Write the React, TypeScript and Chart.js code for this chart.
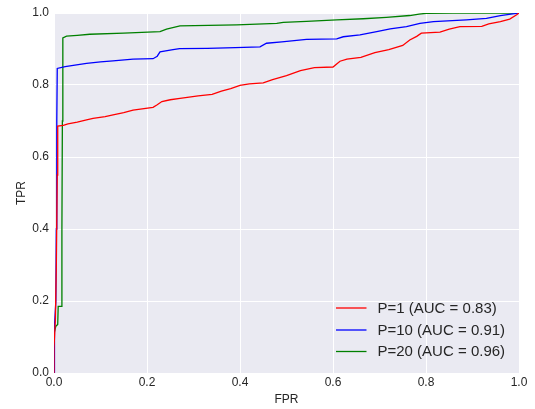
import React, { useEffect, useRef } from "react";
import { Chart, registerables } from "chart.js";

Chart.register(...registerables);

const xTicks = [0, 0.2, 0.4, 0.6, 0.8, 1.0];
const yTicks = [0, 0.2, 0.4, 0.6, 0.8, 1.0];

const seriesLabels = ["P=1 (AUC = 0.83)", "P=10 (AUC = 0.91)", "P=20 (AUC = 0.96)"];
const seriesColors = ["#ff0000", "#0000ff", "#008000"];

const fprP1 = [0, 0, 0.003, 0.005, 0.007, 0.008, 0.02, 0.03, 0.05, 0.07, 0.084, 0.11, 0.127, 0.15, 0.17, 0.213, 0.222, 0.232, 0.25, 0.271, 0.31, 0.34, 0.36, 0.38, 0.4, 0.42, 0.45, 0.47, 0.5, 0.53, 0.56, 0.6, 0.615, 0.63, 0.66, 0.69, 0.72, 0.75, 0.765, 0.78, 0.79, 0.83, 0.85, 0.873, 0.92, 0.935, 0.96, 0.98, 0.995, 1];
const tprP1 = [0, 0.07, 0.15, 0.3, 0.55, 0.686, 0.688, 0.692, 0.697, 0.703, 0.707, 0.712, 0.717, 0.723, 0.73, 0.738, 0.745, 0.754, 0.759, 0.763, 0.77, 0.774, 0.783, 0.79, 0.799, 0.803, 0.806, 0.815, 0.826, 0.84, 0.848, 0.85, 0.866, 0.872, 0.877, 0.89, 0.898, 0.91, 0.925, 0.935, 0.944, 0.947, 0.955, 0.962, 0.963, 0.97, 0.976, 0.983, 0.995, 1];

const fprP10 = [0, 0, 0.002, 0.004, 0.005, 0.006, 0.007, 0.024, 0.045, 0.07, 0.1, 0.127, 0.17, 0.213, 0.222, 0.228, 0.256, 0.27, 0.33, 0.39, 0.443, 0.457, 0.49, 0.543, 0.608, 0.622, 0.658, 0.694, 0.723, 0.758, 0.787, 0.816, 0.887, 0.93, 0.96, 0.99, 1];
const tprP10 = [0, 0.1, 0.13, 0.2, 0.4, 0.7, 0.846, 0.851, 0.855, 0.86, 0.864, 0.867, 0.872, 0.873, 0.88, 0.892, 0.898, 0.901, 0.902, 0.904, 0.906, 0.916, 0.92, 0.927, 0.928, 0.934, 0.939, 0.948, 0.956, 0.962, 0.971, 0.976, 0.981, 0.985, 0.993, 0.998, 1];

const fprP20 = [0, 0, 0.004, 0.008, 0.009, 0.016, 0.017, 0.018, 0.019, 0.027, 0.05, 0.077, 0.15, 0.228, 0.242, 0.271, 0.393, 0.479, 0.493, 0.543, 0.608, 0.665, 0.715, 0.765, 0.785, 0.8, 0.858, 1];
const tprP20 = [0, 0.11, 0.13, 0.135, 0.185, 0.185, 0.4, 0.7, 0.931, 0.936, 0.938, 0.941, 0.944, 0.948, 0.955, 0.964, 0.967, 0.971, 0.974, 0.977, 0.981, 0.984, 0.988, 0.993, 0.997, 0.999, 1, 1];

const FONT = "'Liberation Sans', Arial, sans-serif";
const TEXT = "#262626";

function toPoints(xs: number[], ys: number[]) {
  return xs.map((x, i) => ({ x, y: ys[i] }));
}

const bgPlugin = {
  id: "plotBg",
  beforeDraw(chart: any) {
    const { ctx, chartArea } = chart;
    ctx.save();
    ctx.fillStyle = "#EAEAF2";
    ctx.fillRect(chartArea.left, chartArea.top, chartArea.right - chartArea.left, chartArea.bottom - chartArea.top);
    ctx.restore();
  },
};

const legendPlugin = {
  id: "innerLegend",
  afterDatasetsDraw(chart: any) {
    const { ctx, chartArea } = chart;
    const rows = [-65, -43, -21.5];
    ctx.save();
    ctx.font = `15px ${FONT}`;
    ctx.textBaseline = "middle";
    ctx.textAlign = "left";
    chart.data.datasets.forEach((ds: any, i: number) => {
      const y = chartArea.bottom + rows[i];
      ctx.strokeStyle = ds.borderColor;
      ctx.lineWidth = 1.3;
      ctx.beginPath();
      ctx.moveTo(chartArea.right - 183, y);
      ctx.lineTo(chartArea.right - 152.5, y);
      ctx.stroke();
      ctx.fillStyle = TEXT;
      ctx.fillText(ds.label, chartArea.right - 141.5, y + 0.5);
    });
    ctx.restore();
  },
};

export default function App() {
  const ref = useRef<HTMLCanvasElement | null>(null);
  useEffect(() => {
    if (!ref.current) return;
    const xs = [fprP1, fprP10, fprP20];
    const ys = [tprP1, tprP10, tprP20];
    const chart = new Chart(ref.current, {
      type: "line",
      data: {
        datasets: seriesLabels.map((label, i) => ({
          label,
          data: toPoints(xs[i], ys[i]),
          borderColor: seriesColors[i],
          backgroundColor: seriesColors[i],
          borderWidth: 1.3,
          pointRadius: 0,
          tension: 0,
          fill: false,
        })),
      },
      options: {
        responsive: false,
        animation: false,
        devicePixelRatio: 1,
        layout: { padding: { top: 13, right: 16, left: 0, bottom: 0 } },
        plugins: { legend: { display: false }, tooltip: { enabled: false } },
        scales: {
          x: {
            type: "linear",
            min: 0,
            max: 1,
            afterBuildTicks: (s: any) => {
              s.ticks = xTicks.map((v) => ({ value: v }));
            },
            afterFit: (s: any) => {
              s.height = 36;
            },
            ticks: {
              callback: (v: any) => Number(v).toFixed(1),
              font: { family: FONT, size: 12 },
              color: TEXT,
              padding: 2,
              maxRotation: 0,
            },
            grid: { color: "#ffffff", lineWidth: 1, drawTicks: false },
            border: { display: false },
            title: {
              display: true,
              text: "FPR",
              font: { family: FONT, size: 12 },
              color: TEXT,
              padding: { top: 0, bottom: 2 },
            },
          },
          y: {
            type: "linear",
            min: 0,
            max: 1,
            afterBuildTicks: (s: any) => {
              s.ticks = yTicks.map((v) => ({ value: v }));
            },
            afterFit: (s: any) => {
              s.width = 54;
            },
            ticks: {
              callback: (v: any) => Number(v).toFixed(1),
              font: { family: FONT, size: 12 },
              color: TEXT,
              padding: 5,
            },
            grid: { color: "#ffffff", lineWidth: 1, drawTicks: false },
            border: { display: false },
            title: {
              display: true,
              text: "TPR",
              font: { family: FONT, size: 12 },
              color: TEXT,
              padding: { top: 14, bottom: 0 },
            },
          },
        },
      },
      plugins: [bgPlugin, legendPlugin],
    } as any);
    return () => chart.destroy();
  }, []);
  return (
    <div style={{ position: "absolute", left: 0, top: 0, width: 535, height: 409, background: "#ffffff" }}>
      <canvas ref={ref} width={535} height={409} style={{ display: "block" }} />
    </div>
  );
}
